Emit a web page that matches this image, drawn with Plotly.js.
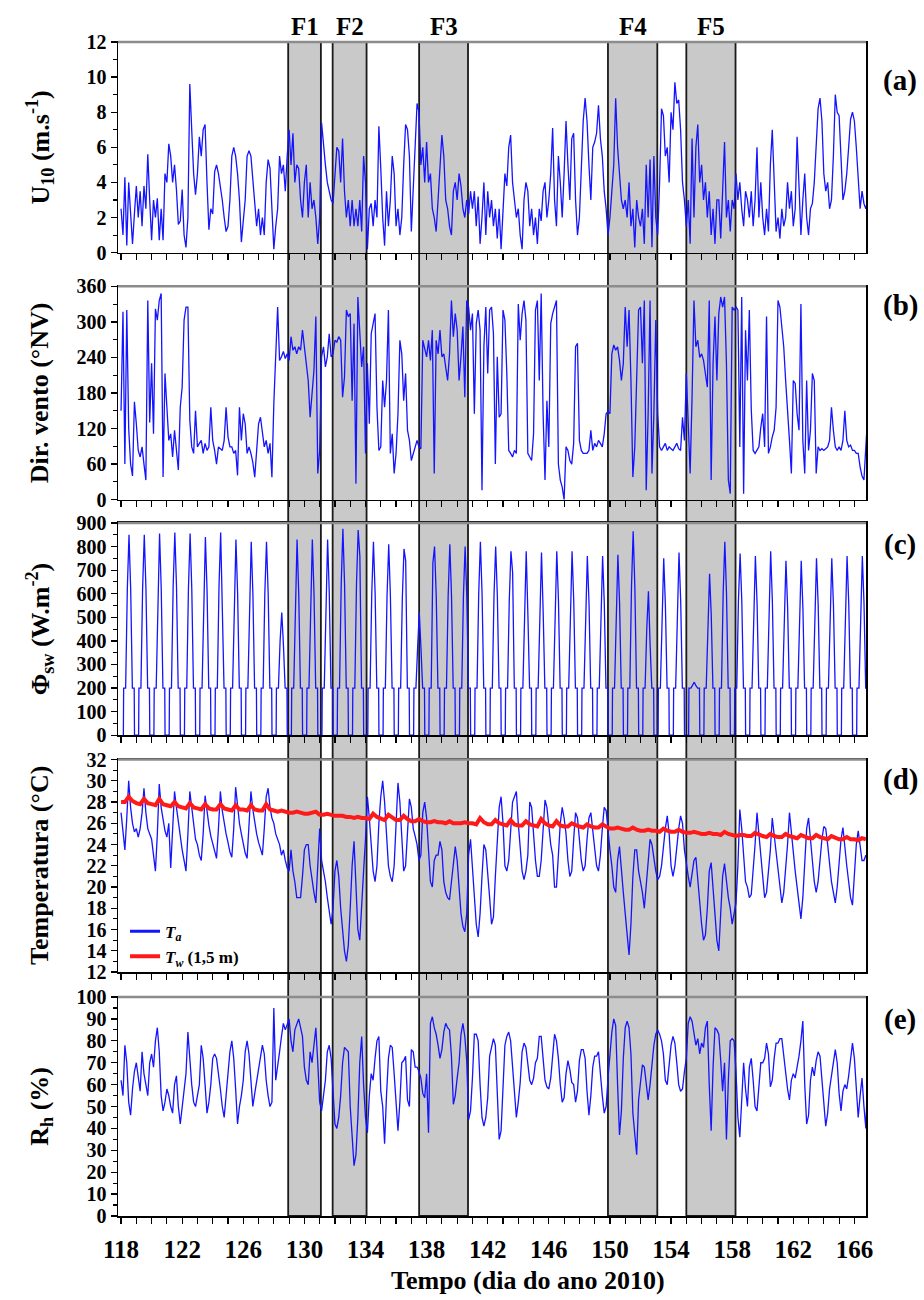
<!DOCTYPE html>
<html><head><meta charset="utf-8">
<script src="https://cdn.plot.ly/plotly-3.0.1.min.js"></script>
<style>html,body{margin:0;padding:0;background:#fff}#chart{width:924px;height:1300px}</style>
</head><body><div id="chart"></div>
<script>
// ---------------- DATA ----------------
const FIRST_DAY = 118;
const N_DAYS = 49;                 // days 118 .. 166
const SAMPLES_PER_DAY = 8;         // 3-hourly samples
const TW_SAMPLES_PER_DAY = 4;
const RAD_DAY_FRACTIONS = [0.15,0.17,0.30,0.41,0.52,0.63,0.74,0.86,0.88];

const X_TICK_LABELS = ['118','122','126','130','134','138','142','146','150','154','158','162','166'];

const FRONT_NAMES = ['F1','F2','F3','F4','F5'];
const FRONT_START = [128.94,131.85,137.51,149.87,155.0];
const FRONT_END   = [131.08,134.07,140.71,153.10,158.22];

// U10 (m/s), one row per day
const U10 = [
2.5,1.0,4.3,0.4,4.0,2.3,0.5,2.2, 3.8,2.0,3.5,1.5,3.8,2.5,5.6,3.0, 0.7,3.0,2.0,3.1,0.7,2.5,0.7,4.5,
4.0,6.2,5.5,4.0,5.0,3.6,1.6,1.8, 3.6,1.0,0.3,2.0,9.6,7.0,4.5,3.3, 4.5,6.6,5.5,7.0,7.3,4.0,1.3,2.5,
2.2,4.6,5.0,4.5,3.8,3.0,2.0,1.2, 1.5,3.0,5.5,6.0,5.5,4.5,3.0,0.6, 1.8,3.0,5.5,5.8,5.5,4.0,2.5,1.5,
2.5,1.0,2.0,1.0,4.0,5.3,4.8,2.0, 0.2,1.5,2.5,5.5,4.5,5.0,3.5,5.5, 7.0,5.0,6.8,4.0,5.0,4.8,3.0,2.0,
4.0,5.0,2.0,4.0,2.5,3.0,2.0,0.5, 2.0,7.4,6.0,5.0,4.0,3.5,3.0,2.8, 4.5,6.0,5.8,4.0,6.5,3.5,2.0,3.0,
1.5,3.0,1.5,2.5,1.5,3.0,1.2,5.5, 4.0,0.2,2.5,2.8,1.5,3.0,2.0,7.2, 4.8,2.0,0.4,3.5,1.5,3.0,5.5,4.5,
1.5,2.5,1.0,2.0,5.0,7.3,7.0,5.5, 1.2,4.0,6.0,8.5,8.0,5.0,6.0,4.0, 6.3,4.0,4.5,2.5,2.0,1.2,3.0,5.0,
6.7,5.5,3.0,2.5,1.5,1.0,3.5,4.0, 3.0,4.5,3.8,2.5,2.0,3.0,2.2,3.5, 2.5,3.5,1.5,3.2,0.5,2.0,4.0,1.0,
3.5,2.0,3.0,1.5,2.5,0.8,2.5,0.2, 2.0,4.5,3.8,6.0,6.7,4.0,3.0,2.0, 2.5,1.0,0.2,3.0,4.0,3.5,1.5,2.5,
1.0,2.0,0.5,2.5,1.8,3.5,4.0,2.0, 3.0,4.5,7.1,3.0,1.5,5.5,4.0,2.0, 4.5,7.5,5.0,3.0,6.5,6.8,3.0,1.0,
2.0,4.5,7.5,8.8,7.5,5.0,3.0,6.0, 6.3,6.8,8.4,6.5,5.5,3.5,2.5,1.0, 2.0,3.5,5.0,8.8,6.0,4.5,3.0,2.5,
3.0,2.0,4.0,1.5,2.5,0.3,3.0,2.0, 1.5,2.5,0.5,5.0,2.0,5.3,0.3,5.5, 2.0,1.0,4.0,8.2,7.8,5.5,6.0,4.0,
8.0,7.0,9.7,8.5,8.7,7.0,4.0,3.0, 1.5,3.0,0.5,6.5,2.0,6.0,7.3,4.0, 5.0,3.0,4.0,2.0,3.5,1.0,2.5,0.5,
3.0,3.0,0.8,3.5,6.3,2.0,3.0,1.2, 3.0,2.5,4.5,3.0,4.0,2.5,1.5,3.5, 3.0,2.0,3.5,1.5,3.0,6.0,2.0,4.0,
2.0,1.0,2.5,1.2,5.0,7.0,4.0,1.2, 2.0,0.8,2.5,1.5,2.0,4.0,2.5,3.5, 1.5,2.5,6.6,3.5,1.0,3.0,4.5,2.0,
1.0,2.5,2.8,4.0,6.0,8.2,8.8,7.5, 4.5,3.5,4.0,2.5,3.0,5.5,9.0,8.0, 7.8,5.0,3.0,3.5,4.5,6.0,7.6,8.0,
7.5,6.0,4.0,2.5,3.5,2.8,2.5,3.0
];

// Wind direction (degrees from north)
const WIND_DIR = [
150,317,60,320,120,60,40,165, 128,83,72,89,60,33,336,130, 230,111,322,303,336,348,38,213,
156,100,111,72,117,89,50,156, 190,303,325,325,134,89,78,150, 89,95,100,78,95,83,89,156,
100,83,60,89,86,83,100,156, 106,89,89,78,83,41,156,100, 145,128,78,89,78,63,38,89,
128,139,111,89,100,78,95,38, 162,241,325,235,241,250,238,246, 235,275,252,258,246,258,252,286,
258,235,201,139,173,218,309,44, 83,241,258,224,241,280,241,246, 269,266,275,269,173,207,320,309,
314,167,297,27,342,291,224,258, 78,230,128,280,297,314,156,83, 89,201,156,201,320,78,111,44,
78,145,269,246,167,213,117,100, 66,78,89,100,89,86,269,252, 241,269,235,286,44,269,246,286,
241,246,224,201,246,336,275,314, 286,201,241,292,173,336,325,286, 314,145,297,320,286,16,258,325,
213,320,325,280,60,241,139,145, 320,303,213,83,78,72,83,78, 330,269,314,336,303,78,72,66,
111,320,336,201,348,145,33,167, 89,297,314,325,336,60,33,21, 0,89,83,66,60,95,258,264,
100,83,78,78,78,83,117,83, 95,89,100,95,89,111,145,149, 145,246,261,252,258,235,201,230,
325,258,320,201,38,89,230,320, 325,230,336,16,145,336,44,145, 303,145,89,83,89,95,83,89,
86,83,89,95,86,83,139,100, 213,134,44,173,336,258,269,240, 246,235,213,190,336,33,230,309,
201,314,342,325,342,230,33,10, 325,320,325,320,89,342,10,286, 201,320,152,83,78,83,89,122,
145,89,309,78,89,106,117,156, 336,325,297,258,201,156,100,44, 201,196,145,117,330,100,44,201,
83,117,213,201,44,89,83,86, 83,86,89,100,156,117,89,83, 89,83,100,150,100,89,92,83,
83,78,78,55,40,33,100,145
];

// Shortwave radiation (W/m2), per day at RAD_DAY_FRACTIONS
const RAD_SW = [
0,200,200,620,850,620,200,200,0, 0,200,200,620,850,620,200,200,0, 0,200,200,620,855,620,200,200,0,
0,200,200,630,860,630,200,200,0, 0,200,200,620,855,620,200,200,0, 0,200,200,610,840,610,200,200,0,
0,200,200,630,860,480,200,200,0, 0,200,200,600,830,600,200,200,0, 0,200,200,480,820,600,200,200,0,
0,200,200,600,820,600,200,200,0, 0,200,200,400,520,380,200,200,0, 0,200,200,600,830,600,200,200,0,
0,200,200,600,830,600,200,200,0, 0,200,200,600,830,600,200,200,0, 0,200,200,640,875,640,200,200,0,
0,200,200,640,870,760,200,200,0, 0,200,200,600,820,600,200,200,0, 0,200,200,590,810,590,200,200,0,
0,200,200,580,790,740,200,200,0, 0,200,200,370,520,370,200,200,0, 0,200,200,730,800,590,200,200,0,
0,200,200,590,810,590,200,200,0, 0,200,200,590,800,590,200,200,0, 0,200,200,600,820,600,200,200,0,
0,200,200,590,800,590,200,200,0, 0,200,200,570,780,690,200,200,0, 0,200,200,570,780,510,200,200,0,
0,200,200,570,775,520,200,200,0, 0,200,200,570,780,570,200,200,0, 0,200,200,570,780,570,200,200,0,
0,200,200,560,760,560,200,200,0, 0,200,200,560,760,560,200,200,0, 0,200,200,560,765,560,200,200,0,
0,200,200,630,865,630,200,200,0, 0,200,200,450,610,380,200,200,0, 0,200,200,550,750,550,200,200,0,
0,200,200,570,775,570,200,200,0, 0,200,200,210,225,210,200,200,0, 0,200,200,510,685,510,200,200,0,
0,200,200,600,820,600,200,200,0, 0,200,200,570,770,570,200,200,0, 0,200,200,560,760,560,200,200,0,
0,200,200,570,780,570,200,200,0, 0,200,200,540,740,540,200,200,0, 0,200,200,540,740,540,200,200,0,
0,200,200,550,750,550,200,200,0, 0,200,200,550,750,550,200,200,0, 0,200,200,560,760,560,200,200,0,
0,200,200,560,760,560,200,200,0
];

// Air temperature Ta (°C)
const T_AIR = [
27.0,25.0,23.5,26.5,30.0,27.5,26.0,25.2, 25.5,24.7,25.5,27.0,29.3,27.0,25.5,25.0, 24.5,23.0,21.5,25.0,29.7,27.5,26.3,25.3,
24.7,26.0,21.8,25.5,29.0,27.5,26.0,24.5, 23.5,22.5,21.5,25.0,29.0,27.5,26.0,24.5, 24.0,23.0,22.5,25.0,28.6,27.0,25.8,24.8,
24.0,23.2,22.7,25.5,29.0,27.2,26.0,25.0, 24.2,23.3,22.8,25.5,29.4,27.5,26.0,25.0, 24.0,23.2,22.7,25.5,29.0,27.3,26.0,25.0,
24.2,23.5,23.0,25.5,28.5,29.3,27.5,26.5, 26.0,25.0,24.5,24.0,23.0,23.5,22.5,21.8, 21.5,23.5,21.5,20.5,19.0,19.0,19.0,21.0,
23.5,24.0,24.0,22.0,20.5,19.5,18.5,22.0, 25.5,22.5,21.5,20.5,19.0,17.5,16.5,18.0, 21.5,22.5,21.0,18.0,16.0,14.0,13.0,14.5,
18.0,22.0,24.3,20.0,16.0,15.0,19.0,21.5, 24.5,28.5,26.5,23.5,21.5,20.5,22.0,26.0, 28.5,30.0,28.0,25.0,22.0,21.0,20.5,22.0,
26.0,29.8,28.0,24.5,21.5,22.0,25.5,28.3, 27.5,25.5,24.8,24.0,22.5,23.0,27.0,28.0, 26.5,23.0,20.5,20.0,22.5,23.0,23.0,24.3,
23.5,20.5,19.5,19.0,18.8,20.5,22.5,23.8, 22.5,20.0,17.5,16.3,15.8,17.5,23.0,24.5, 22.0,19.5,16.5,15.3,17.5,21.0,24.0,23.5,
21.5,19.0,16.5,17.2,21.0,25.0,27.5,28.5, 26.0,22.0,21.5,22.5,25.5,28.0,28.5,29.0, 26.0,23.5,21.5,20.7,21.5,23.0,28.0,27.5,
24.5,22.5,21.0,21.0,22.5,25.5,28.2,27.5, 25.5,24.0,23.0,20.0,20.0,23.0,26.0,27.5, 26.5,25.0,22.5,21.0,21.5,24.5,27.0,26.5,
24.5,22.5,21.5,22.0,24.5,26.5,27.0,25.5, 23.5,22.0,21.5,23.0,25.5,27.5,27.2,25.0, 23.5,22.0,20.0,19.5,22.5,23.8,22.0,19.5,
17.5,15.5,13.6,16.5,21.0,23.5,23.5,21.5, 20.5,19.5,18.0,20.0,22.0,24.5,24.0,22.5, 21.5,20.7,21.0,22.0,24.0,25.5,26.7,25.0,
22.0,21.0,22.0,24.0,25.5,26.7,26.0,23.5, 22.0,21.0,20.0,21.5,22.5,22.8,20.5,18.0, 16.5,15.0,15.5,18.0,21.5,22.3,19.5,17.0,
15.0,14.0,17.0,21.0,22.2,20.5,19.0,18.0, 16.5,17.5,18.5,22.0,27.3,25.5,22.5,20.5, 20.0,19.0,19.3,21.5,24.0,27.0,25.0,23.0,
21.0,19.0,19.5,21.5,23.5,26.5,25.0,23.0, 21.5,20.0,18.5,19.5,21.5,24.0,27.0,25.0, 23.0,21.5,20.0,18.5,17.0,19.0,23.0,25.5,
26.5,24.5,22.0,20.5,19.5,20.5,22.5,24.5, 25.7,25.5,24.0,22.0,20.5,19.5,18.5,20.0, 22.5,24.5,25.6,23.5,22.0,20.5,19.0,18.3,
21.0,24.0,25.3,24.0,22.5,22.5,23.0,22.5
];

// Water temperature Tw at 1.5 m (°C), 4 samples per day
const T_WATER = [
28.0,28.0,28.5,28.1, 27.9,27.8,28.3,27.9, 27.8,27.7,28.3,27.8, 27.7,27.6,28.0,27.6, 27.5,27.4,27.9,27.5,
27.4,27.3,27.8,27.4, 27.3,27.3,27.8,27.4, 27.3,27.2,27.7,27.3, 27.3,27.2,27.7,27.3, 27.2,27.2,27.8,27.3,
27.2,27.1,27.2,27.1, 27.0,27.0,27.1,27.0, 26.9,26.9,27.0,27.1, 26.8,26.8,26.9,26.8, 26.7,26.7,26.7,26.6,
26.6,26.5,26.6,26.5, 26.5,26.4,26.9,26.6, 26.4,26.3,26.8,26.5, 26.3,26.3,26.7,26.4, 26.2,26.2,26.4,26.2,
26.1,26.1,26.2,26.1, 26.1,26.0,26.2,26.0, 26.0,26.0,26.1,26.0, 26.0,25.9,26.5,26.1, 25.9,25.9,26.3,26.0,
25.9,25.8,26.3,25.9, 25.8,25.8,26.2,25.9, 25.8,25.7,26.4,26.0, 25.8,25.7,26.2,25.8, 25.7,25.7,26.0,25.8,
25.7,25.6,25.9,25.7, 25.6,25.6,25.9,25.7, 25.5,25.5,25.6,25.5, 25.4,25.4,25.6,25.4, 25.3,25.3,25.4,25.3,
25.3,25.2,25.5,25.3, 25.2,25.2,25.4,25.2, 25.1,25.1,25.2,25.1, 25.0,25.0,25.1,25.0, 25.0,24.9,25.2,25.0,
24.9,24.8,24.9,24.9, 24.8,24.8,25.1,24.9, 24.8,24.7,25.0,24.8, 24.7,24.7,25.0,24.8, 24.7,24.6,24.9,24.7,
24.6,24.6,24.9,24.7, 24.6,24.5,24.8,24.6, 24.5,24.5,24.7,24.5, 24.5,24.4,24.6,24.5
];

// Relative humidity Rh (%)
const RH = [
62,55,78,70,52,46,58,66, 70,62,57,75,65,60,55,70, 74,68,80,86,75,55,48,52,
58,55,50,47,60,64,50,42, 50,55,65,84,70,60,52,50, 55,60,78,72,60,47,52,60,
72,74,72,66,58,50,45,55, 65,75,80,72,58,42,50,55, 62,75,80,74,62,50,56,62,
68,72,78,74,62,55,50,52, 95,62,70,75,82,88,85,88, 90,80,75,85,88,90,86,82,
68,62,60,75,70,78,86,70, 52,48,55,62,75,78,72,55, 42,40,45,55,70,77,76,75,
50,35,23,28,45,70,82,60, 45,38,55,65,62,72,80,82, 57,50,33,55,72,78,77,65,
53,39,52,70,71,73,53,50, 76,75,68,68,66,63,56,54, 65,38,88,91,86,83,78,72,
76,84,88,86,85,73,51,55, 63,70,83,88,82,71,44,48, 63,83,83,80,60,45,41,45,
54,73,77,81,78,55,35,39, 56,78,82,84,80,69,57,45, 52,61,75,79,77,68,62,60,
63,70,72,82,82,72,62,59, 58,63,74,83,80,72,60,52, 54,65,71,67,61,60,52,57,
71,76,76,72,57,46,55,68, 73,73,75,64,55,47,50,63, 73,84,90,87,60,37,48,72,
86,89,86,74,47,38,28,53, 62,69,68,59,53,60,70,78, 83,85,83,80,74,62,60,70,
78,82,79,70,60,57,58,66, 72,88,91,89,83,78,81,74, 79,77,86,89,60,39,68,86,
85,83,71,57,70,35,62,80, 81,80,66,45,36,55,70,58, 50,68,72,62,50,48,60,70,
70,72,79,74,59,62,72,79, 79,81,81,73,67,58,53,62, 65,63,68,73,80,89,60,42,
46,62,68,64,71,75,73,62, 53,41,47,58,64,70,76,70, 56,48,57,60,58,64,73,79,
72,56,45,55,63,50,40,65
];

// ---------------- time axes (day of year) ----------------
function regularTimes(perDay){
  const t=[];
  for(let d=0; d<N_DAYS; d++) for(let k=0;k<perDay;k++) t.push(FIRST_DAY+d+k/perDay);
  return t;
}
function radTimes(){
  const t=[];
  for(let d=0; d<N_DAYS; d++) RAD_DAY_FRACTIONS.forEach(f=>t.push(FIRST_DAY+d+f));
  return t;
}
const T8 = regularTimes(SAMPLES_PER_DAY);
const T4 = regularTimes(TW_SAMPLES_PER_DAY);
const TR = radTimes();

// ---------------- figure ----------------
const FONT = 'Liberation Serif, Times New Roman, serif';
const BLUE = '#1414ff';
const XR = [117.8, 166.76];
const DOMAINS = [[0.8206,1],[0.6102,0.7919],[0.4095,0.5903],[0.2078,0.3888],[0,0.1865]];
const YRANGES = [[0,12],[0,360],[0,900],[12,32],[0,100]];
const YDTICK = [2,60,100,2,10];
const YMINOR = [1,30,50,1,5];
const YTITLES = ['U<sub>10</sub> (m.s<sup>-1</sup>)','Dir. vento (°NV)','Φ<sub>sw</sub> (W.m<sup>-2</sup>)','Temperatura (°C)','R<sub>h</sub> (%)'];
const PANEL_LABELS = ['(a)','(b)','(c)','(d)','(e)'];
const PANEL_LABEL_Y = [0.9673,0.7757,0.5721,0.3719,0.1675];

const blueLine = {color:BLUE, width:1.3};
const traces = [
  {x:T8, y:U10, xaxis:'x', yaxis:'y', mode:'lines', line:blueLine, showlegend:false, hoverinfo:'skip'},
  {x:T8, y:WIND_DIR, xaxis:'x2', yaxis:'y2', mode:'lines', line:blueLine, showlegend:false, hoverinfo:'skip'},
  {x:TR, y:RAD_SW, xaxis:'x3', yaxis:'y3', mode:'lines', line:blueLine, showlegend:false, hoverinfo:'skip'},
  {x:T8, y:T_AIR, xaxis:'x4', yaxis:'y4', mode:'lines', line:blueLine, showlegend:false, hoverinfo:'skip'},
  {x:T4, y:T_WATER, xaxis:'x4', yaxis:'y4', mode:'lines', line:{color:'#ff1a1a', width:4}, showlegend:false, hoverinfo:'skip'},
  {x:T8, y:RH, xaxis:'x5', yaxis:'y5', mode:'lines', line:blueLine, showlegend:false, hoverinfo:'skip'},
  // legend entries
  {x:[null], y:[null], xaxis:'x4', yaxis:'y4', mode:'lines', line:{color:BLUE, width:3}, name:'<i>T<sub>a</sub></i>', showlegend:true},
  {x:[null], y:[null], xaxis:'x4', yaxis:'y4', mode:'lines', line:{color:'#ff1a1a', width:4}, name:'<i>T<sub>w</sub></i> (1,5 m)', showlegend:true}
];

const layout = {
  width:924, height:1300,
  margin:{l:118, r:58, t:42, b:84},
  paper_bgcolor:'#ffffff', plot_bgcolor:'#ffffff',
  showlegend:true,
  legend:{x:0.0094, y:0.2575, xanchor:'left', yanchor:'top', bgcolor:'rgba(0,0,0,0)',
          font:{family:FONT, size:17, color:'#000', weight:'bold'}, tracegroupgap:0, itemwidth:30},
  shapes:[], annotations:[]
};

for(let i=0;i<5;i++){
  const s = i===0 ? '' : String(i+1);
  layout['xaxis'+s] = {
    domain:[0,1], anchor:'y'+s, range:XR,
    tickmode:'array', tickvals:X_TICK_LABELS.map(Number), ticktext:X_TICK_LABELS,
    ticks:'outside', ticklen:6, tickwidth:1.3, tickcolor:'#000',
    minor:{dtick:1, tick0:118, ticks:'outside', ticklen:6, tickwidth:1.2, tickcolor:'#000', showgrid:false},
    showline:true, mirror:true, linecolor:'#000', linewidth:1.5,
    showgrid:false, zeroline:false, showticklabels:i===4, ticklabelstandoff:4,
    tickfont:{family:FONT, size:25, color:'#000', weight:'bold'}
  };
  layout['yaxis'+s] = {
    domain:DOMAINS[i], anchor:'x'+s, range:YRANGES[i],
    tick0:YRANGES[i][0], dtick:YDTICK[i],
    ticks:'outside', ticklen:6, tickwidth:1.3, tickcolor:'#000',
    minor:{dtick:YMINOR[i], ticks:'outside', ticklen:4, tickwidth:1.1, tickcolor:'#000', showgrid:false},
    showline:true, mirror:true, linecolor:'#000', linewidth:1.5,
    showgrid:false, zeroline:false,
    tickfont:{family:FONT, size:20, color:'#000', weight:'bold'}
  };
  // grey top border of each panel
  layout.shapes.push({type:'line', xref:'paper', yref:'paper', x0:0, x1:1, y0:DOMAINS[i][1], y1:DOMAINS[i][1],
    line:{color:'#8c8c8c', width:2.5}, layer:'above'});
  // y-axis titles
  layout.annotations.push({xref:'paper', yref:'paper', x:-0.104, y:(DOMAINS[i][0]+DOMAINS[i][1])/2,
    xanchor:'center', yanchor:'middle', textangle:-90, showarrow:false, text:YTITLES[i],
    font:{family:FONT, size:26, color:'#000', weight:'bold'}});
  // panel letters
  layout.annotations.push({xref:'paper', yref:'paper', x:1.0455, y:PANEL_LABEL_Y[i],
    xanchor:'center', yanchor:'middle', showarrow:false, text:PANEL_LABELS[i],
    font:{family:FONT, size:29, color:'#000', weight:'bold'}});
}

// shaded frontal periods spanning all panels
for(let k=0;k<FRONT_NAMES.length;k++){
  layout.shapes.push({type:'rect', xref:'x5', yref:'paper', x0:FRONT_START[k], x1:FRONT_END[k], y0:0, y1:1,
    fillcolor:'#c9c9c9', line:{color:'#1a1a1a', width:1.8}, layer:'below'});
  layout.annotations.push({xref:'x5', yref:'paper', x:(FRONT_START[k]+FRONT_END[k])/2, y:1.0128,
    xanchor:'center', yanchor:'middle', showarrow:false, text:FRONT_NAMES[k],
    font:{family:FONT, size:25, color:'#000', weight:'bold'}});
}

// x-axis title
layout.annotations.push({xref:'paper', yref:'paper', x:0.548, y:-0.0548, xanchor:'center', yanchor:'middle',
  showarrow:false, text:'Tempo (dia do ano 2010)', font:{family:FONT, size:26, color:'#000', weight:'bold'}});

Plotly.newPlot('chart', traces, layout, {staticPlot:true, displayModeBar:false});
</script>
</body></html>
